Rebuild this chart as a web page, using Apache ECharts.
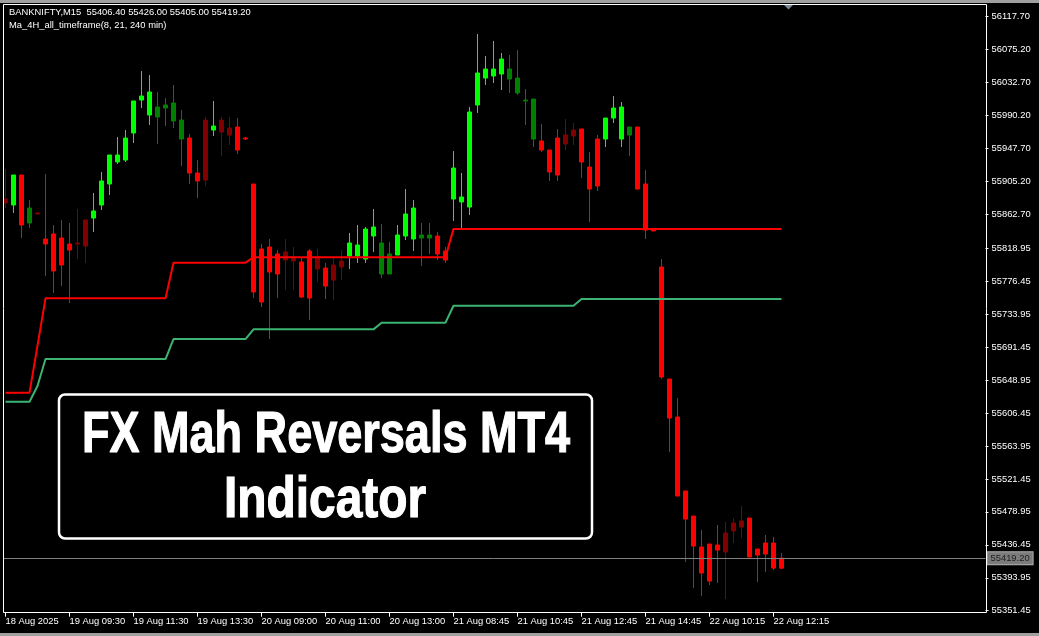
<!DOCTYPE html>
<html>
<head>
<meta charset="utf-8">
<title>BANKNIFTY M15</title>
<script src="https://cdn.jsdelivr.net/npm/echarts@6/dist/echarts.min.js"></script>
<style>
  html, body { margin: 0; padding: 0; background: #000; }
  #chart { width: 1039px; height: 636px; }
</style>
</head>
<body>
<div id="chart"></div>
<script>
// candles, index 0 = 18 Aug 13:45, one bar = 15 min
var opens = [
  55877.4, 55874.8, 55913.5, 55870.9, 55863.2, 55830.9, 55837.4, 55832.2, 55824.5, 55824.5,
  55821.9, 55858.0, 55874.8, 55901.9, 55930.3, 55932.8, 55967.7, 56010.2, 55990.9, 56001.2,
  56003.8, 56006.4, 55984.4, 55961.2, 55916.1, 55907.0, 55971.5, 55969.0, 55965.1, 55975.4,
  55961.2, 55901.9, 55818.0, 55820.6, 55811.6, 55803.8, 55802.6, 55801.3, 55815.5, 55792.2,
  55793.5, 55778.0, 55794.8, 55809.0, 55809.0, 55805.1, 55834.8, 55825.8, 55811.6, 55810.3,
  55834.8, 55830.9, 55836.1, 55836.1, 55834.8, 55815.5, 55882.5, 55878.7, 55872.2, 56003.8,
  56038.6, 56041.2, 56043.8, 56050.2, 56038.6, 56010.2, 56011.5, 55957.4, 55945.7, 55961.2,
  55953.5, 55963.8, 55972.8, 55923.8, 55959.9, 55959.9, 55987.0, 55959.9, 55975.4, 55975.4,
  55901.9, 55842.5, 55794.8, 55650.3, 55601.3, 55505.9, 55473.6, 55433.6, 55437.5, 55436.2,
  55427.2, 55454.3, 55459.4, 55471.0, 55431.0, 55438.8, 55438.8, 55406.4
];
var closes = [
  55882.5, 55913.5, 55849.0, 55851.6, 55864.5, 55824.5, 55789.7, 55797.4, 55816.7, 55825.8,
  55855.4, 55867.1, 55905.8, 55939.3, 55939.3, 55961.2, 56009.0, 56015.4, 56020.6, 55988.3,
  55999.9, 55983.2, 55959.9, 55916.1, 55905.8, 55984.4, 55976.7, 55984.4, 55974.1, 55945.7,
  55959.9, 55762.6, 55749.7, 55788.4, 55785.8, 55814.2, 55807.7, 55756.1, 55754.8, 55807.7,
  55770.3, 55797.4, 55802.6, 55825.8, 55823.2, 55843.8, 55846.4, 55785.8, 55785.8, 55836.1,
  55863.2, 55870.9, 55832.2, 55832.2, 55811.6, 55803.8, 55922.5, 55885.1, 55994.8, 56045.1,
  56050.2, 56050.2, 56063.1, 56037.3, 56019.3, 56009.0, 55959.9, 55945.7, 55917.4, 55913.5,
  55965.1, 55971.5, 55930.3, 55895.4, 55899.3, 55987.0, 55999.9, 56001.2, 55965.1, 55895.4,
  55842.5, 55841.3, 55652.9, 55600.0, 55499.4, 55469.7, 55434.9, 55400.1, 55389.7, 55429.7,
  55451.7, 55464.6, 55467.2, 55420.7, 55423.3, 55424.6, 55406.5, 55419.2
];
var lows = [
  55870.9, 55864.5, 55832.2, 55845.1, 55863.2, 55783.2, 55761.3, 55770.3, 55748.4, 55805.1,
  55800.0, 55840.0, 55868.3, 55887.7, 55927.7, 55930.3, 55954.8, 55999.9, 55978.0, 55953.5,
  55976.7, 55974.1, 55925.1, 55901.9, 55883.8, 55899.3, 55963.8, 55938.0, 55952.2, 55940.6,
  55958.6, 55754.8, 55743.2, 55701.9, 55754.8, 55765.1, 55765.1, 55754.8, 55726.4, 55775.5,
  55753.5, 55752.2, 55778.0, 55792.2, 55800.0, 55800.0, 55814.2, 55780.6, 55785.8, 55810.3,
  55829.6, 55815.5, 55796.1, 55811.6, 55803.8, 55800.0, 55854.2, 55845.1, 55861.9, 55993.5,
  56029.6, 56032.2, 56023.1, 56019.3, 56016.7, 55978.0, 55949.6, 55943.2, 55905.8, 55905.8,
  55945.7, 55952.2, 55909.6, 55852.9, 55892.9, 55949.6, 55980.6, 55949.6, 55938.0, 55894.1,
  55830.9, 55841.3, 55650.3, 55556.2, 55499.4, 55414.3, 55380.7, 55370.4, 55384.6, 55387.2,
  55366.5, 55438.8, 55445.2, 55420.7, 55388.5, 55401.4, 55403.9, 55405.0
];
var highs = [
  55921.2, 55913.5, 55913.5, 55881.2, 55865.8, 55914.8, 55849.0, 55855.4, 55851.6, 55869.6,
  55855.4, 55890.3, 55917.4, 55939.3, 55962.5, 55971.5, 56009.0, 56047.7, 56042.5, 56020.6,
  56012.8, 56029.6, 55997.3, 55966.4, 55932.8, 55988.3, 56009.0, 55988.3, 55988.3, 55987.0,
  55962.5, 55901.9, 55824.5, 55830.9, 55816.7, 55830.9, 55820.6, 55807.7, 55818.0, 55818.0,
  55800.0, 55806.4, 55816.7, 55838.7, 55849.0, 55846.4, 55869.6, 55850.3, 55827.1, 55849.0,
  55895.4, 55881.2, 55851.6, 55851.6, 55840.0, 55820.6, 55944.5, 55916.1, 56001.2, 56095.4,
  56067.0, 56086.4, 56070.9, 56068.3, 56074.7, 56024.4, 56011.5, 55979.3, 55945.7, 55972.8,
  55985.7, 55980.6, 55972.8, 55943.2, 55965.1, 55987.0, 56015.4, 56007.7, 55975.4, 55975.4,
  55919.9, 55842.5, 55805.1, 55650.3, 55625.8, 55505.9, 55473.6, 55455.5, 55437.5, 55462.0,
  55465.9, 55471.0, 55486.5, 55471.0, 55431.0, 55449.1, 55446.5, 55426.0
];
// candle colour per bar: L lime, G green, R red, M maroon
var tones = 'MLRGMRRRRM' + 'MLLLLLLLLG' + 'GGGRRMLMMR' + 'RRRRRMMRRM' + 'RMMLLLLGGL' +
            'LLGGRRLLLL' + 'LLLGGGGRRR' + 'MMRRRLLLGR' + 'RRRRRRRRRR' + 'MMMRRRRR';

// Ma_4H_all_timeframe lines (8 and 21 periods)
var maFast = [
  55632.7, 55632.7, 55632.7, 55632.7, 55693.5, 55754.4, 55754.4, 55754.4, 55754.4, 55754.4,
  55754.4, 55754.4, 55754.4, 55754.4, 55754.4, 55754.4, 55754.4, 55754.4, 55754.4, 55754.4,
  55754.4, 55800.4, 55800.4, 55800.4, 55800.4, 55800.4, 55800.4, 55800.4, 55800.4, 55800.4,
  55800.4, 55807.3, 55807.3, 55807.3, 55807.3, 55807.3, 55807.3, 55807.3, 55807.3, 55807.3,
  55807.3, 55807.3, 55807.3, 55807.3, 55807.3, 55807.3, 55807.3, 55807.3, 55807.3, 55807.3,
  55807.3, 55807.3, 55807.3, 55807.3, 55807.3, 55807.3, 55844.0, 55844.0, 55844.0, 55844.0,
  55844.0, 55844.0, 55844.0, 55844.0, 55844.0, 55844.0, 55844.0, 55844.0, 55844.0, 55844.0,
  55844.0, 55844.0, 55844.0, 55844.0, 55844.0, 55844.0, 55844.0, 55844.0, 55844.0, 55844.0,
  55844.0, 55844.0, 55844.0, 55844.0, 55844.0, 55844.0, 55844.0, 55844.0, 55844.0, 55844.0,
  55844.0, 55844.0, 55844.0, 55844.0, 55844.0, 55844.0, 55844.0, 55844.0
];
var maSlow = [
  55621.0, 55621.0, 55621.0, 55621.0, 55641.3, 55676.1, 55676.1, 55676.1, 55676.1, 55676.1,
  55676.1, 55676.1, 55676.1, 55676.1, 55676.1, 55676.1, 55676.1, 55676.1, 55676.1, 55676.1,
  55676.1, 55701.9, 55701.9, 55701.9, 55701.9, 55701.9, 55701.9, 55701.9, 55701.9, 55701.9,
  55701.9, 55714.4, 55714.4, 55714.4, 55714.4, 55714.4, 55714.4, 55714.4, 55714.4, 55714.4,
  55714.4, 55714.4, 55714.4, 55714.4, 55714.4, 55714.4, 55714.4, 55723.0, 55723.0, 55723.0,
  55723.0, 55723.0, 55723.0, 55723.0, 55723.0, 55723.0, 55744.9, 55744.9, 55744.9, 55744.9,
  55744.9, 55744.9, 55744.9, 55744.9, 55744.9, 55744.9, 55744.9, 55744.9, 55744.9, 55744.9,
  55744.9, 55744.9, 55753.5, 55753.5, 55753.5, 55753.5, 55753.5, 55753.5, 55753.5, 55753.5,
  55753.5, 55753.5, 55753.5, 55753.5, 55753.5, 55753.5, 55753.5, 55753.5, 55753.5, 55753.5,
  55753.5, 55753.5, 55753.5, 55753.5, 55753.5, 55753.5, 55753.5, 55753.5
];

var timeLabels = ['18 Aug 2025', '19 Aug 09:30', '19 Aug 11:30', '19 Aug 13:30', '20 Aug 09:00',
  '20 Aug 11:00', '20 Aug 13:00', '21 Aug 08:45', '21 Aug 10:45', '21 Aug 12:45',
  '21 Aug 14:45', '22 Aug 10:15', '22 Aug 12:15'];
var priceTicks = [56117.70, 56075.20, 56032.70, 55990.20, 55947.70, 55905.20, 55862.70, 55818.95,
  55776.45, 55733.95, 55691.45, 55648.95, 55606.45, 55563.95, 55521.45, 55478.95, 55436.45,
  55393.95, 55351.45];
var lastPrice = 55419.20;
var slotCount = 123; // bars + empty chart shift on the right

var palette = { L: '#00ff00', G: '#008000', R: '#ff0000', M: '#800000' };
var uiFont = '"Liberation Sans", Arial, sans-serif';
var captionFont = 'bold 57px "Liberation Sans", Arial, sans-serif';

var slots = [];
for (var s = 0; s < slotCount; s++) slots.push(String(s));

var candles = opens.map(function (o, i) {
  var c = palette[tones.charAt(i)];
  return {
    value: [o, closes[i], lows[i], highs[i]],
    itemStyle: { color: c, color0: c, borderColor: c, borderColor0: c }
  };
});

function labelled(idx) {
  return idx % 8 === 0 && idx / 8 < timeLabels.length;
}

var myChart = echarts.init(document.getElementById('chart'));
myChart.setOption({
  backgroundColor: '#000',
  animation: false,
  grid: { left: 1.5, top: 4, width: 984, height: 608.7, show: false },
  xAxis: {
    type: 'category',
    data: slots,
    boundaryGap: true,
    axisLine: { show: false },
    axisTick: {
      show: true, alignWithLabel: true, length: 4,
      interval: function (idx) { return labelled(idx); },
      lineStyle: { color: '#fff', width: 1 }
    },
    axisLabel: {
      interval: function (idx) { return labelled(idx); },
      formatter: function (v, idx) { return timeLabels[idx / 8] || ''; },
      align: 'left', margin: 4, color: '#fff', fontSize: 9.4, fontFamily: uiFont
    },
    splitLine: { show: false }
  },
  yAxis: {
    type: 'value',
    position: 'right',
    min: 55348.9,
    max: 56134.1,
    scale: true,
    axisLine: { show: false },
    splitLine: { show: false },
    axisTick: {
      show: true, length: 3, customValues: priceTicks,
      lineStyle: { color: '#fff', width: 1 }
    },
    axisLabel: {
      customValues: priceTicks,
      formatter: function (v) { return v.toFixed(2); },
      margin: 6, color: '#fff', fontSize: 9.4, fontFamily: uiFont
    }
  },
  series: [
    {
      type: 'candlestick',
      data: candles,
      barWidth: 4,
      itemStyle: { borderWidth: 1 },
      z: 2,
      markLine: {
        silent: true,
        symbol: ['none', 'none'],
        lineStyle: { color: '#808080', width: 1, type: 'solid' },
        label: {
          show: true, position: 'end', distance: 2,
          formatter: lastPrice.toFixed(2),
          backgroundColor: '#7c7c7c', borderColor: '#b0b0b0', borderWidth: 1,
          color: '#1e1e1e', padding: [2, 3, 1, 3], fontSize: 9.4, fontFamily: uiFont
        },
        data: [{ yAxis: lastPrice }]
      }
    },
    {
      type: 'line', data: maFast, symbol: 'none', z: 4,
      lineStyle: { color: '#ff0000', width: 2 }
    },
    {
      type: 'line', data: maSlow, symbol: 'none', z: 4,
      lineStyle: { color: '#3cb371', width: 2 }
    }
  ],
  graphic: [
    // window edges
    { type: 'rect', z: 100, shape: { x: 0, y: 0, width: 1039, height: 3 }, style: { fill: '#a0a0a0' } },
    { type: 'rect', z: 100, shape: { x: 0, y: 633, width: 1039, height: 3 }, style: { fill: '#a0a0a0' } },
    { type: 'rect', z: 100, shape: { x: 0, y: 3, width: 3, height: 630 }, style: { fill: '#000' } },
    // plot frame
    { type: 'rect', z: 100, shape: { x: 3.5, y: 4.5, width: 983, height: 608 },
      style: { fill: 'none', stroke: '#fff', lineWidth: 1 } },
    // chart shift marker
    { type: 'polygon', z: 100, shape: { points: [[784, 5], [793, 5], [788.5, 9.5]] },
      style: { fill: '#778899' } },
    // header
    { type: 'text', z: 100, x: 9, y: 12.7,
      style: { text: 'BANKNIFTY,M15  55406.40 55426.00 55405.00 55419.20', fill: '#fff',
        font: '9.4px ' + uiFont, verticalAlign: 'middle' } },
    { type: 'text', z: 100, x: 9, y: 25.7,
      style: { text: 'Ma_4H_all_timeframe(8, 21, 240 min)', fill: '#fff',
        font: '9.4px ' + uiFont, verticalAlign: 'middle' } },
    // caption box
    { type: 'rect', z: 100, shape: { x: 59, y: 394.5, width: 533, height: 144, r: 6 },
      style: { fill: '#000', stroke: '#fff', lineWidth: 2.5 } },
    { type: 'text', z: 101, x: 326, y: 436, scaleX: 0.79,
      style: { text: 'FX Mah Reversals MT4', fill: '#fff', stroke: '#fff', lineWidth: 1.2,
        align: 'center', verticalAlign: 'middle', font: captionFont } },
    { type: 'text', z: 101, x: 325, y: 501, scaleX: 0.84,
      style: { text: 'Indicator', fill: '#fff', stroke: '#fff', lineWidth: 1.2,
        align: 'center', verticalAlign: 'middle', font: captionFont } }
  ]
});
</script>
</body>
</html>
